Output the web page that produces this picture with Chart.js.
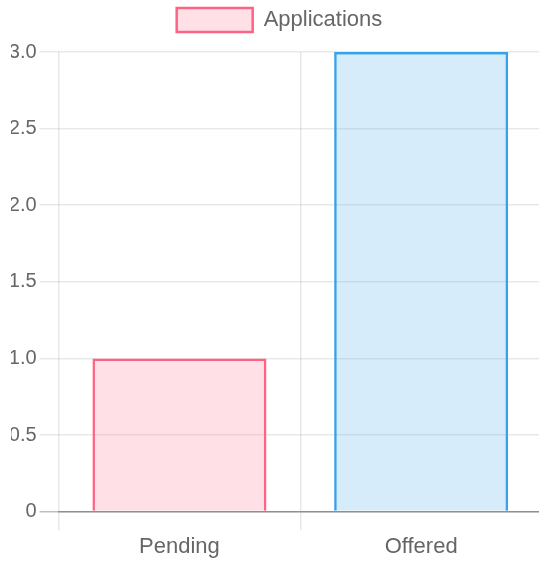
<!DOCTYPE html>
<html>
<head>
<meta charset="utf-8">
<script src="https://cdn.jsdelivr.net/npm/chart.js@4/dist/chart.umd.min.js"></script>
<style>
  html, body { margin: 0; padding: 0; background: #fff; overflow: hidden; }
  #clip { position: absolute; left: 11px; top: 0; width: 528px; height: 561px; overflow: hidden; }
  #box { position: absolute; left: -11px; top: 0; width: 550px; height: 564px; }
</style>
</head>
<body>
<div id="clip"><div id="box"><canvas id="chart"></canvas></div></div>
<script>
// Application status counts
const categories = ['Pending', 'Offered'];
const seriesLabel = 'Applications';
const applications = [1, 3];
const fillColors = ['rgba(255, 99, 132, 0.2)', 'rgba(54, 162, 235, 0.2)'];
const lineColors = ['rgb(255, 99, 132)', 'rgb(54, 162, 235)'];

const FONT = '"Liberation Sans", Arial, Helvetica, sans-serif';
const TEXT = '#666';
const GRID = 'rgba(0, 0, 0, 0.09)';
const ZERO = 'rgba(0, 0, 0, 0.25)';

// Extra room under the legend, and the legend nudged a little to the right
const legendTweak = {
  id: 'legendTweak',
  beforeInit(chart) {
    const fit = chart.legend.fit;
    chart.legend.fit = function () {
      fit.call(this);
      this.height += 10;
    };
  },
  afterLayout(chart) {
    chart.legend.left += 11.2;
  }
};

new Chart(document.getElementById('chart'), {
  type: 'bar',
  data: {
    labels: categories,
    datasets: [{
      label: seriesLabel,
      data: applications,
      backgroundColor: fillColors,
      borderColor: lineColors,
      borderWidth: 2.5
    }]
  },
  plugins: [legendTweak],
  options: {
    responsive: true,
    maintainAspectRatio: false,
    animation: false,
    layout: { padding: { left: 5.8, right: 8, top: 0, bottom: 1 } },
    plugins: {
      tooltip: { enabled: false },
      legend: {
        position: 'top',
        labels: {
          color: TEXT,
          font: { family: FONT, size: 22 },
          boxWidth: 76,
          boxHeight: 24,
          padding: 8
        }
      }
    },
    scales: {
      x: {
        grid: { color: GRID, lineWidth: 1.5, tickLength: 19 },
        border: { color: ZERO, width: 1.5 },
        ticks: { color: TEXT, font: { family: FONT, size: 22 }, padding: 3 }
      },
      y: {
        min: 0,
        max: 3,
        grid: {
          color: ctx => (ctx.tick && ctx.tick.value === 0) ? ZERO : GRID,
          lineWidth: 1.5,
          tickLength: 19
        },
        border: { display: false },
        ticks: {
          stepSize: 0.5,
          color: TEXT,
          font: { family: FONT, size: 20 },
          padding: 3,
          callback: v => v === 0 ? '0' : v.toFixed(1)
        }
      }
    }
  }
});
</script>
</body>
</html>
